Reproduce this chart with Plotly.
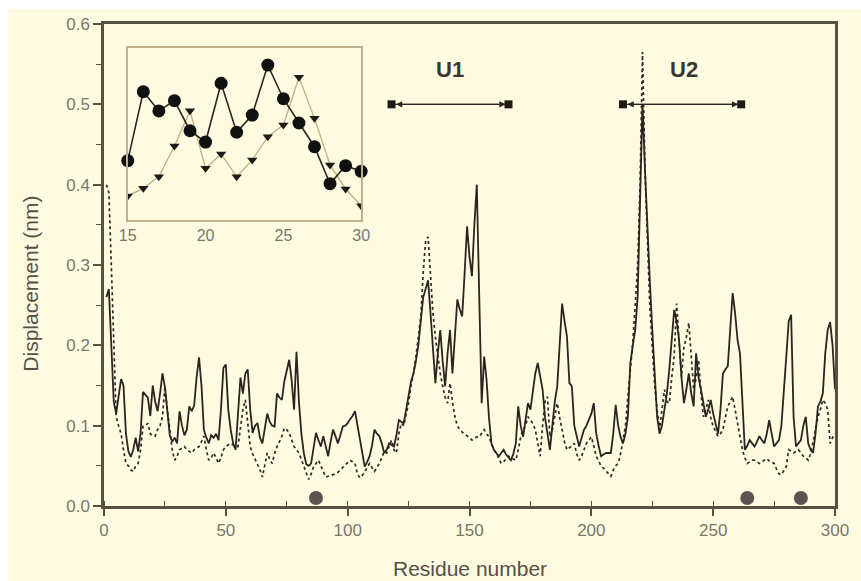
import plotly.graph_objects as go

# ---------------- data ----------------
residues = list(range(1, 301))

solid_disp = [
    0.26, 0.27, 0.20, 0.13, 0.115, 0.14, 0.158, 0.15, 0.09, 0.068,
    0.061, 0.07, 0.085, 0.068, 0.09, 0.142, 0.138, 0.135, 0.112, 0.15,
    0.13, 0.118, 0.14, 0.165, 0.148, 0.12, 0.088, 0.08, 0.085, 0.078,
    0.118, 0.10, 0.088, 0.095, 0.124, 0.118, 0.125, 0.16, 0.185, 0.15,
    0.095, 0.085, 0.078, 0.088, 0.085, 0.09, 0.082, 0.12, 0.172, 0.176,
    0.12, 0.095, 0.078, 0.07, 0.12, 0.16, 0.14, 0.165, 0.17, 0.12,
    0.091, 0.10, 0.103, 0.085, 0.078, 0.098, 0.115, 0.105, 0.10, 0.099,
    0.14, 0.135, 0.132, 0.155, 0.17, 0.182, 0.157, 0.12, 0.192, 0.13,
    0.09, 0.066, 0.052, 0.05, 0.053, 0.07, 0.091, 0.082, 0.074, 0.087,
    0.075, 0.062, 0.08, 0.095, 0.087, 0.078, 0.088, 0.099, 0.10, 0.103,
    0.108, 0.112, 0.118, 0.10, 0.085, 0.065, 0.049, 0.055, 0.062, 0.075,
    0.095, 0.09, 0.087, 0.078, 0.066, 0.07, 0.078, 0.076, 0.074, 0.088,
    0.107, 0.105, 0.103, 0.12, 0.14, 0.155, 0.165, 0.18, 0.20, 0.235,
    0.26, 0.27, 0.281, 0.24, 0.19, 0.153, 0.19, 0.219, 0.18, 0.149,
    0.19, 0.219, 0.165, 0.21, 0.257, 0.245, 0.236, 0.29, 0.348, 0.31,
    0.286, 0.35, 0.40, 0.26, 0.128, 0.186, 0.157, 0.11, 0.078, 0.07,
    0.066, 0.062, 0.066, 0.07, 0.064, 0.06, 0.057, 0.065, 0.078, 0.124,
    0.10, 0.086, 0.11, 0.128, 0.12, 0.14, 0.165, 0.178, 0.16, 0.145,
    0.11, 0.09, 0.07, 0.10, 0.13, 0.149, 0.20, 0.252, 0.23, 0.211,
    0.153, 0.149, 0.10, 0.086, 0.074, 0.085, 0.095, 0.10, 0.107, 0.115,
    0.128, 0.09, 0.075, 0.062, 0.064, 0.066, 0.066, 0.066, 0.09, 0.126,
    0.10, 0.086, 0.078, 0.09, 0.111, 0.178, 0.20, 0.219, 0.26, 0.38,
    0.50, 0.42, 0.34, 0.28, 0.22, 0.16, 0.111, 0.09, 0.10, 0.12,
    0.14, 0.17, 0.21, 0.244, 0.23, 0.207, 0.16, 0.128, 0.145, 0.165,
    0.14, 0.124, 0.19, 0.16, 0.145, 0.13, 0.111, 0.12, 0.132, 0.115,
    0.103, 0.09, 0.12, 0.165, 0.17, 0.174, 0.22, 0.265, 0.24, 0.207,
    0.19, 0.13, 0.07, 0.075, 0.082, 0.078, 0.074, 0.08, 0.087, 0.082,
    0.078, 0.09, 0.107, 0.09, 0.074, 0.078, 0.082, 0.10, 0.15, 0.186,
    0.23, 0.238, 0.111, 0.074, 0.078, 0.082, 0.10, 0.111, 0.078, 0.07,
    0.066, 0.09, 0.124, 0.13, 0.14, 0.19, 0.219, 0.229, 0.20, 0.145,
]

dotted_disp = [
    0.40, 0.39, 0.30, 0.20, 0.111, 0.10, 0.09, 0.07, 0.053, 0.05,
    0.045, 0.043, 0.05, 0.053, 0.07, 0.099, 0.10, 0.103, 0.09, 0.087,
    0.087, 0.095, 0.10, 0.111, 0.149, 0.12, 0.095, 0.07, 0.057, 0.062,
    0.07, 0.072, 0.074, 0.07, 0.068, 0.066, 0.07, 0.072, 0.074, 0.08,
    0.087, 0.07, 0.057, 0.06, 0.066, 0.06, 0.053, 0.06, 0.07, 0.074,
    0.076, 0.078, 0.076, 0.074, 0.074, 0.10, 0.12, 0.132, 0.10, 0.074,
    0.065, 0.058, 0.053, 0.045, 0.036, 0.05, 0.066, 0.058, 0.053, 0.065,
    0.074, 0.08, 0.087, 0.097, 0.095, 0.091, 0.082, 0.074, 0.07, 0.066,
    0.058, 0.049, 0.04, 0.033, 0.04, 0.049, 0.053, 0.057, 0.05, 0.042,
    0.036, 0.037, 0.038, 0.039, 0.04, 0.042, 0.045, 0.049, 0.052, 0.055,
    0.057, 0.055, 0.053, 0.04, 0.035, 0.038, 0.042, 0.048, 0.053, 0.048,
    0.043, 0.048, 0.053, 0.06, 0.068, 0.066, 0.074, 0.082, 0.07, 0.066,
    0.09, 0.103, 0.10, 0.115, 0.128, 0.15, 0.165, 0.186, 0.21, 0.235,
    0.29, 0.33, 0.335, 0.29, 0.24, 0.21, 0.186, 0.165, 0.149, 0.135,
    0.128, 0.153, 0.13, 0.111, 0.10, 0.095, 0.092, 0.09, 0.088, 0.085,
    0.082, 0.084, 0.086, 0.086, 0.09, 0.095, 0.09, 0.086, 0.078, 0.07,
    0.066, 0.06, 0.053, 0.055, 0.058, 0.062, 0.06, 0.058, 0.057, 0.07,
    0.086, 0.095, 0.10, 0.111, 0.107, 0.103, 0.095, 0.08, 0.062, 0.10,
    0.13, 0.136, 0.086, 0.095, 0.11, 0.128, 0.11, 0.095, 0.08, 0.07,
    0.072, 0.075, 0.078, 0.065, 0.057, 0.062, 0.07, 0.078, 0.082, 0.086,
    0.075, 0.062, 0.056, 0.05, 0.047, 0.044, 0.04, 0.037, 0.045, 0.05,
    0.053, 0.065, 0.082, 0.10, 0.136, 0.17, 0.203, 0.25, 0.30, 0.40,
    0.565, 0.42, 0.34, 0.25, 0.199, 0.15, 0.12, 0.095, 0.12, 0.145,
    0.13, 0.128, 0.16, 0.186, 0.252, 0.20, 0.161, 0.198, 0.21, 0.228,
    0.19, 0.145, 0.16, 0.182, 0.14, 0.111, 0.12, 0.132, 0.11, 0.099,
    0.093, 0.087, 0.09, 0.095, 0.11, 0.124, 0.13, 0.136, 0.12, 0.103,
    0.085, 0.07, 0.06, 0.053, 0.055, 0.057, 0.057, 0.055, 0.053, 0.055,
    0.057, 0.059, 0.056, 0.054, 0.053, 0.046, 0.04, 0.039, 0.044, 0.049,
    0.07, 0.068, 0.066, 0.068, 0.07, 0.066, 0.062, 0.06, 0.057, 0.065,
    0.078, 0.095, 0.111, 0.12, 0.132, 0.128, 0.12, 0.078, 0.085, 0.09,
]

inset_res = list(range(15, 31))
inset_circles = [0.345, 0.746, 0.634, 0.694, 0.519, 0.453, 0.795, 0.510,
                 0.610, 0.901, 0.705, 0.564, 0.426, 0.211, 0.316, 0.283]
inset_triangles = [0.140, 0.184, 0.252, 0.430, 0.635, 0.301, 0.384, 0.252,
                   0.349, 0.484, 0.552, 0.830, 0.591, 0.320, 0.180, 0.083]

site_res = [87, 264, 286]
site_val = [0.01, 0.01, 0.01]

region_labels = ["U1", "U2"]
region_start = [118, 213]
region_end = [166, 261.5]
region_level = [0.5, 0.5]
label_x = [142, 238]
label_y = [0.543, 0.543]

x_ticks = [0, 50, 100, 150, 200, 250, 300]
y_ticks = [0.0, 0.1, 0.2, 0.3, 0.4, 0.5, 0.6]
inset_ticks = [15, 20, 25, 30]

# ---------------- styles ----------------
CREAM = "#fffbe0"
AXIS = "#5a5042"
FONT = "Liberation Sans, Arial, sans-serif"
TICKFONT = dict(family=FONT, size=17, color="#7a766c")
TITLEFONT = dict(family=FONT, size=21, color="#555048")

fig = go.Figure()

fig.add_trace(go.Scatter(x=residues, y=dotted_disp, mode="lines",
                         line=dict(color="#2e2a24", width=1.7, dash="dot"),
                         showlegend=False))
fig.add_trace(go.Scatter(x=residues, y=solid_disp, mode="lines",
                         line=dict(color="#2a2520", width=1.8),
                         showlegend=False))
fig.add_trace(go.Scatter(x=site_res, y=site_val, mode="markers",
                         marker=dict(size=14, color="#5a5550"),
                         cliponaxis=False, showlegend=False))

# region bars with square ends
for s, e, lv in zip(region_start, region_end, region_level):
    fig.add_trace(go.Scatter(x=[s, e], y=[lv, lv], mode="lines+markers",
                             line=dict(color="#3a3530", width=1.4),
                             marker=dict(symbol="square", size=8, color="#1e1a16"),
                             showlegend=False))
    fig.add_annotation(x=e - 1.2, y=lv, ax=s + 1.2, ay=lv, xref="x", yref="y",
                       axref="x", ayref="y", text="", showarrow=True,
                       arrowhead=2, arrowsize=0.9, arrowwidth=1.4,
                       arrowcolor="#2a2520", arrowside="end+start")

for lab, lx, ly in zip(region_labels, label_x, label_y):
    fig.add_annotation(x=lx, y=ly, xref="x", yref="y", text="<b>%s</b>" % lab,
                       showarrow=False,
                       font=dict(family=FONT, size=22, color="#3a3632"))

# inset
fig.add_trace(go.Scatter(x=inset_res, y=inset_triangles, mode="lines+markers",
                         xaxis="x2", yaxis="y2",
                         line=dict(color="#c2ad84", width=1.3),
                         marker=dict(symbol="triangle-down", size=9, color="#1e1a16"),
                         showlegend=False))
fig.add_trace(go.Scatter(x=inset_res, y=inset_circles, mode="lines+markers",
                         xaxis="x2", yaxis="y2",
                         line=dict(color="#2a2520", width=1.6),
                         marker=dict(symbol="circle", size=13, color="#111111"),
                         cliponaxis=False, showlegend=False))

# background panel (cream, leaving a thin white border at top/left)
fig.add_shape(type="rect", xref="paper", yref="paper",
              x0=-0.1313, x1=1.04, y0=-0.17, y1=1.031,
              fillcolor=CREAM, line=dict(width=0), layer="below")

fig.add_annotation(text="Residue number", xref="paper", yref="paper", x=0.5007, y=-0.13,
                   xanchor="center", yanchor="middle", showarrow=False, font=TITLEFONT)
fig.add_annotation(text="Displacement (nm)", xref="paper", yref="paper", x=-0.1, y=0.461,
                   xanchor="center", yanchor="middle", textangle=-90, showarrow=False,
                   font=TITLEFONT)

fig.update_layout(
    width=861, height=581,
    margin=dict(l=104, r=18, t=24, b=75),
    paper_bgcolor="white",
    plot_bgcolor="rgba(0,0,0,0)",
    xaxis=dict(range=[0, 300], tickvals=x_ticks, showline=True, linecolor=AXIS,
               linewidth=2.5, mirror=True, ticks="outside", ticklen=7, tickwidth=1.5,
               tickcolor=AXIS, tickfont=TICKFONT, showgrid=False, zeroline=False,
               minor=dict(ticks="inside", ticklen=5, tickwidth=1.2, tickcolor=AXIS,
                          dtick=25, tick0=0, showgrid=False)),
    yaxis=dict(range=[0, 0.6], tickvals=y_ticks, tickformat=".1f", showline=True,
               linecolor=AXIS, linewidth=2.5, mirror=True, ticks="outside", ticklen=8,
               tickwidth=1.5, tickcolor=AXIS, tickfont=TICKFONT, showgrid=False,
               zeroline=False,
               minor=dict(ticks="outside", ticklen=5, tickwidth=1.2, tickcolor=AXIS,
                          dtick=0.05, tick0=0, showgrid=False)),
    xaxis2=dict(domain=[0.0325, 0.3518], anchor="y2", range=[15, 30],
                tickvals=inset_ticks, showline=True, linecolor="#c0b08c",
                linewidth=1.6, mirror=True, ticks="",
                tickfont=dict(family=FONT, size=16, color="#7a766c"),
                showgrid=False, zeroline=False),
    yaxis2=dict(domain=[0.5934, 0.9502], anchor="x2", range=[0, 1],
                showline=True, linecolor="#c0b08c", linewidth=1.6, mirror=True,
                ticks="", showticklabels=False, showgrid=False, zeroline=False),
)

fig.write_html("out.html")
